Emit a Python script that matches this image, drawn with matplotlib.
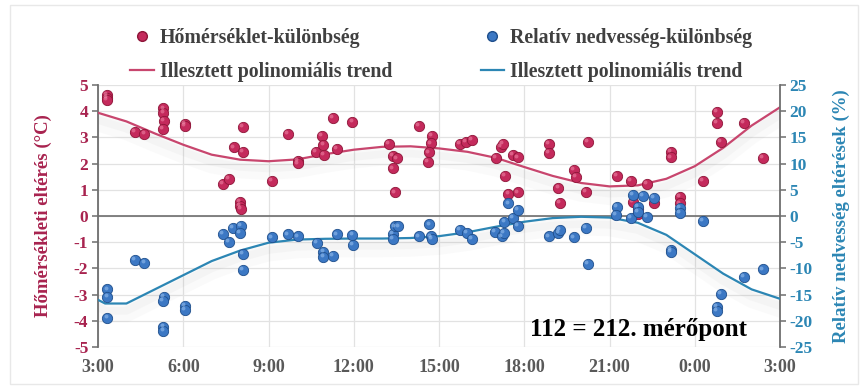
import matplotlib
matplotlib.use("Agg")
import matplotlib.pyplot as plt
import matplotlib.patheffects as pe
from matplotlib.transforms import offset_copy
from matplotlib.lines import Line2D
from matplotlib.patches import Rectangle

# ---- data (hours elapsed since 3:00) ----
temp_h = [0.31, 0.31, 0.31, 1.30, 1.63, 2.30, 2.30, 2.32, 2.28, 3.06, 3.06,
          5.11, 4.79, 5.11, 4.39, 4.62, 5.00, 4.98, 5.02,
          6.13, 6.67, 7.03, 7.03, 7.67, 7.89, 7.93, 7.96, 8.40, 8.26, 8.95,
          10.24, 10.37, 10.51, 10.37, 10.45, 11.28, 11.74, 11.71, 11.65, 11.62,
          12.74, 12.95, 13.15, 13.99, 14.18, 14.26, 14.61, 14.79, 14.32, 14.44, 14.79,
          15.87, 15.87, 16.20, 16.26, 16.75, 16.81, 17.16, 17.25,
          18.25, 18.75, 19.31, 18.81, 19.01, 19.01, 19.56, 20.15, 20.15, 20.48, 20.48,
          21.30, 21.77, 21.77, 21.92, 22.73, 23.41]
temp_v = [4.62, 4.50, 4.43, 3.22, 3.13, 4.11, 3.95, 3.64, 3.31, 3.50, 3.44,
          3.41, 2.62, 2.45, 1.21, 1.41, 0.55, 0.38, 0.26,
          1.34, 3.13, 2.10, 2.01, 2.45, 3.05, 2.71, 2.33, 2.55, 3.73, 3.60,
          2.74, 2.29, 2.20, 1.82, 0.90, 3.44, 3.05, 2.77, 2.43, 2.07,
          2.74, 2.84, 2.90, 2.23, 2.65, 2.74, 2.33, 2.24, 1.53, 0.83, 0.90,
          2.75, 2.42, 1.06, 0.51, 1.76, 1.50, 0.93, 2.84,
          1.54, 1.35, 1.22, 0.55, 0.26, 0.06, 0.51, 2.45, 2.24, 0.74, 0.48,
          1.35, 3.98, 3.54, 2.84, 3.54, 2.23]

hum_h = [0.33, 0.33, 0.33, 1.30, 1.63, 2.33, 2.28, 2.30, 2.30, 3.06, 3.06,
         4.39, 4.62, 4.76, 5.02, 5.00, 5.11, 5.11,
         6.13, 6.67, 7.03, 7.69, 7.93, 7.93, 8.26, 8.40, 8.95, 8.96,
         10.37, 10.45, 10.57, 10.37, 11.28, 11.66, 11.71, 11.74,
         12.74, 12.97, 13.17, 13.97, 14.20, 14.29, 14.30, 14.44, 14.61, 14.79, 14.79,
         15.87, 16.20, 16.26, 16.75, 17.16, 17.25,
         18.25, 18.23, 18.75, 18.82, 19.01, 19.01, 19.18, 19.31, 19.57, 20.48, 20.48,
         20.15, 20.15, 21.30, 21.92, 21.77, 21.77, 22.73, 23.41]
hum_v = [-14.0, -15.4, -19.4, -8.4, -8.9, -15.4, -16.2, -21.1, -21.9, -17.2, -17.9,
         -3.4, -4.9, -2.2, -1.9, -3.3, -7.3, -10.3,
         -4.1, -3.5, -3.9, -5.2, -6.8, -7.8, -7.6, -3.5, -3.6, -5.5,
         -3.4, -2.0, -2.0, -4.3, -3.9, -1.6, -3.9, -4.4,
         -2.7, -3.3, -4.4, -3.1, -3.9, -3.3, -1.2, 2.4, -0.4, 1.1, -1.9,
         -3.9, -3.2, -2.7, -4.1, -2.2, -9.2,
         1.8, 0.2, -0.4, 4.0, 1.8, 0.8, 3.8, -0.2, 3.4, 1.5, 0.6,
         -6.4, -6.8, -0.9, -14.8, -17.3, -18.1, -11.6, -10.2]

# trend lines
temp_trend_h = list(range(0, 25))
temp_trend_v = [3.94, 3.61, 3.15, 2.72, 2.34, 2.15, 2.09, 2.16, 2.36, 2.53, 2.64,
                2.66, 2.58, 2.45, 2.22, 1.87, 1.53, 1.26, 1.13, 1.17, 1.42, 1.90,
                2.60, 3.45, 4.15]
hum_trend_h = [0, 0.25, 1.0, 2, 3, 4, 5, 6, 7, 8, 9, 10, 11, 12, 13, 14, 15, 16,
               17, 18, 19, 20, 21, 22, 23, 24]
hum_trend_v = [-16.0, -16.7, -16.7, -14.0, -11.3, -8.6, -6.6, -5.1, -4.5, -4.35,
               -4.3, -4.3, -4.2, -3.85, -3.1, -2.05, -1.1, -0.4, -0.15, -0.3, -1.3,
               -3.6, -7.3, -11.0, -14.0, -15.8]

x_ticks = [0, 3, 6, 9, 12, 15, 18, 21, 24]
x_labels = ["3:00", "6:00", "9:00", "12:00", "15:00", "18:00", "21:00", "0:00", "3:00"]
left_ticks = [5, 4, 3, 2, 1, 0, -1, -2, -3, -4, -5]
right_ticks = [25, 20, 15, 10, 5, 0, -5, -10, -15, -20, -25]

# ---- style ----
RED = "#C42A5C"
RED_EDGE = "#8E1538"
RED_LINE = "#C8466E"
BLUE = "#3C78C4"
BLUE_EDGE = "#1F4F8C"
BLUE_LINE = "#2C86B4"
LEFT_TXT = "#A8234F"
RIGHT_TXT = "#2C86B4"
GREY_TXT = "#595959"
SERIF = ["Liberation Serif", "DejaVu Serif"]

plt.rcParams["font.family"] = SERIF
plt.rcParams["font.weight"] = "bold"

fig = plt.figure(figsize=(8.61, 3.89), dpi=100)
fig.patches.append(Rectangle((0.012, 0.012), 0.985, 0.975, transform=fig.transFigure,
                             fill=False, edgecolor="#E8E8E8", linewidth=1.0))
ax = fig.add_axes([98 / 861, 42 / 389, 682 / 861, 262 / 389])
ax2 = ax.twinx()

ax.set_xlim(0, 24)
ax.set_ylim(-5, 5)
ax2.set_ylim(-25, 25)

ax.set_xticks(x_ticks)
ax.set_xticklabels(x_labels, fontsize=13, color=GREY_TXT, fontweight="bold")
ax.set_yticks(left_ticks)
ax.set_yticklabels([str(t) for t in left_ticks], fontsize=12.5, color=LEFT_TXT, fontweight="bold")
ax2.set_yticks(right_ticks)
ax2.set_yticklabels([str(t) for t in right_ticks], fontsize=12.5, color=RIGHT_TXT, fontweight="bold")

ax.grid(True, color="#E2E2E2", linewidth=0.9)
ax.set_axisbelow(True)
ax.axhline(0, color="#6E6E6E", linewidth=1.2, zorder=1)

for a in (ax, ax2):
    a.spines["top"].set_visible(False)
    a.spines["bottom"].set_visible(False)
ax.spines["left"].set_color("#6E6E6E")
ax.spines["left"].set_linewidth(1.3)
ax2.spines["left"].set_visible(False)
ax2.spines["right"].set_color("#6E6E6E")
ax2.spines["right"].set_linewidth(1.3)
ax.spines["right"].set_visible(False)
ax.tick_params(axis="y", length=4, width=1.1, color="#6E6E6E", pad=3)
ax.tick_params(axis="x", length=0, pad=9)
ax2.tick_params(axis="y", length=4, width=1.1, color="#6E6E6E", pad=3)

ax.set_ylabel("Hőmérsékleti eltérés (°C)", fontsize=13.5, color=LEFT_TXT,
              fontweight="bold", labelpad=16)
ax2.set_ylabel("Relatív nedvesség eltérések (%)", fontsize=13.5, color=RIGHT_TXT,
               fontweight="bold", labelpad=14)

shadow = [pe.SimpleLineShadow(offset=(0, -4), shadow_color="#808080", alpha=0.045, linewidth=8),
          pe.SimpleLineShadow(offset=(0, -8), shadow_color="#808080", alpha=0.035, linewidth=11),
          pe.Normal()]

ax.plot(temp_trend_h, temp_trend_v, color=RED_LINE, linewidth=1.6, zorder=3,
        path_effects=shadow, solid_joinstyle="round")
ax.scatter(temp_h, temp_v, s=55, color=RED, edgecolors=RED_EDGE, linewidths=0.6, zorder=4)
hl = offset_copy(ax.transData, fig=fig, x=-1.3, y=1.3, units="points")
ax.scatter(temp_h, temp_v, s=8, color="#F08AAA", alpha=0.55, linewidths=0,
           transform=hl, zorder=5)

ax2.plot(hum_trend_h, hum_trend_v, color=BLUE_LINE, linewidth=1.6, zorder=3,
         path_effects=shadow, solid_joinstyle="round")
ax2.scatter(hum_h, hum_v, s=55, color=BLUE, edgecolors=BLUE_EDGE, linewidths=0.6, zorder=4)
hl2 = offset_copy(ax2.transData, fig=fig, x=-1.3, y=1.3, units="points")
ax2.scatter(hum_h, hum_v, s=8, color="#9CC3F0", alpha=0.55, linewidths=0,
            transform=hl2, zorder=5)

ax2.text(0.793, 0.065, "112 = 212. mérőpont", transform=ax2.transAxes,
         fontsize=18, fontweight="bold", color="black", ha="center", va="center")

handles = [
    Line2D([], [], linestyle="none", marker="o", markersize=7, color=RED,
           markeredgecolor=RED_EDGE),
    Line2D([], [], color=RED_LINE, linewidth=1.6),
    Line2D([], [], linestyle="none", marker="o", markersize=7, color=BLUE,
           markeredgecolor=BLUE_EDGE),
    Line2D([], [], color=BLUE_LINE, linewidth=1.6),
]
labels = ["Hőmérséklet-különbség", "Illesztett polinomiális trend",
          "Relatív nedvesség-különbség", "Illesztett polinomiális trend"]
leg = fig.legend(handles, labels, ncol=2, loc="upper left",
                 bbox_to_anchor=(130 / 861, 1 - 28 / 389), frameon=False,
                 prop={"family": SERIF, "weight": "bold", "size": 14.3},
                 handlelength=1.2, handletextpad=0.3, columnspacing=4.45,
                 labelspacing=0.72, borderpad=0, borderaxespad=0)
for t in leg.get_texts():
    t.set_color("#404040")

fig.savefig("out.png", dpi=100)
